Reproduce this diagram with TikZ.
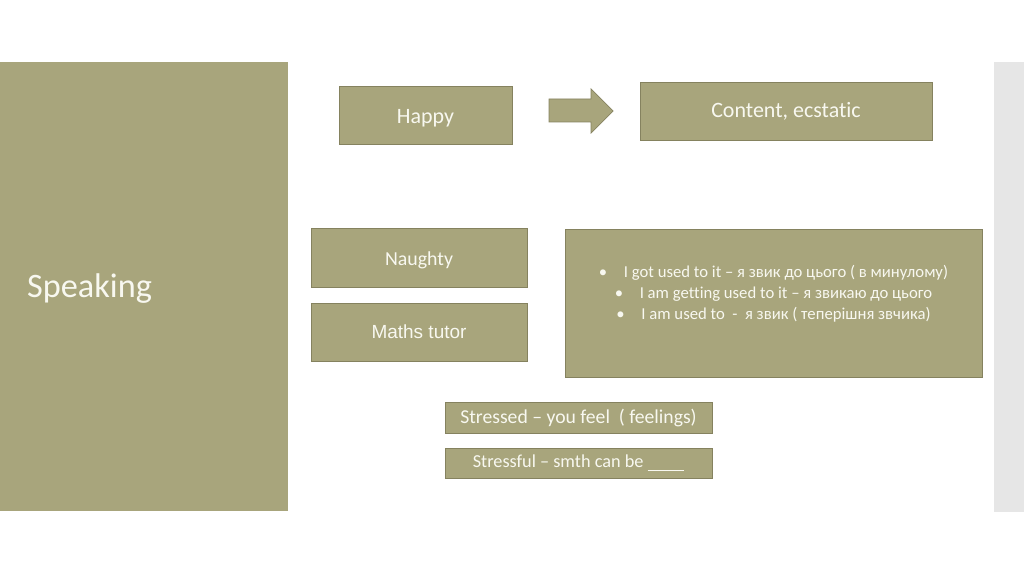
\documentclass[tikz,border=0pt]{standalone}
\usepackage{fontspec}
\setmainfont{Carlito}[Ligatures=NoCommon]
\newfontfamily\arialfont{Liberation Sans}
\definecolor{olive}{HTML}{A8A57C}
\definecolor{olivedark}{HTML}{85825F}
\definecolor{paletext}{HTML}{F8F8F0}
\definecolor{stripgray}{HTML}{E6E6E6}
\tikzset{
  card/.style={draw=olivedark, fill=olive, text=paletext, align=center, inner sep=0pt},
}
\newcommand{\lowerby}[1]{\rule{0pt}{#1}}
\begin{document}
\begin{tikzpicture}[x=0.02cm, y=-0.02cm]
\useasboundingbox (0,0) rectangle (1024,574);
\fill[olive] (0,62) rectangle (288,511);
\fill[stripgray] (994,62) rectangle (1024,512);
\node[text=paletext, anchor=west, font=\fontsize{19.5}{23}\selectfont] (speaking) at (21,289) {Speaking};
\node[card, minimum width=3.46cm, minimum height=1.16cm, font=\fontsize{12.5}{15}\selectfont] (happy) at (425.5,115) {\lowerby{12pt}Happy};
\node[card, minimum width=5.84cm, minimum height=1.16cm, font=\fontsize{12.5}{15}\selectfont] (content) at (786,111) {Content, ecstatic};
\fill[olive, draw=olivedark] (549,99) -- (591,99) -- (591,89) -- (613,111) -- (591,133) -- (591,122) -- (549,122) -- cycle;
\node[card, minimum width=4.32cm, minimum height=1.18cm, font=\fontsize{11.3}{14}\selectfont] (naughty) at (419,257.5) {\lowerby{11pt}Naughty};
\node[card, minimum width=4.32cm, minimum height=1.16cm, font=\arialfont\fontsize{10.8}{13}\selectfont] (tutor) at (419,332) {Maths tutor};
\node[card, minimum width=8.34cm, minimum height=2.96cm, font=\fontsize{9.5}{12}\selectfont] (usedto) at (773.5,303)
  {•\quad I got used to it – я звик до цього ( в минулому)\\
   •\quad I am getting used to it – я звикаю до цього\\
   •\quad I am used to \ - \ я звик ( теперішня звчика)\\[0pt]};
\node[card, minimum width=5.34cm, minimum height=0.62cm, font=\fontsize{11.2}{13}\selectfont] (stressed) at (578.5,417.5) {Stressed – you feel \ ( feelings)};
\node[card, minimum width=5.34cm, minimum height=0.60cm, font=\fontsize{10.4}{13}\selectfont] (stressful) at (578.5,463) {Stressful – smth can be \underline{\hspace{2em}}};
\end{tikzpicture}
\end{document}
